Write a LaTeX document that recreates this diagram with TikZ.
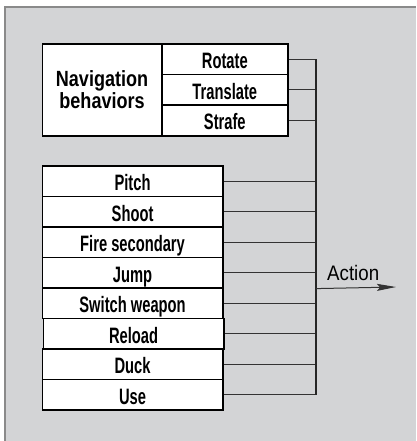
\documentclass[tikz,border=0pt]{standalone}
\usepackage{fontspec}
\setmainfont{Liberation Sans}
\newfontfamily\condfont[FakeStretch=0.66]{Liberation Sans Bold}
\newfontfamily\navfont[FakeStretch=0.82]{Liberation Sans}
\newfontfamily\actfont[FakeStretch=0.89]{Liberation Sans}
\usetikzlibrary{arrows.meta}
\definecolor{bgcol}{HTML}{D3D4D6}
\definecolor{framecol}{HTML}{8A8A8A}
\definecolor{wirecol}{HTML}{333333}
\begin{document}
\begin{tikzpicture}[x=1pt,y=-1pt,
  cell/.style={draw=black, line width=1.6pt, fill=white, inner sep=0pt, anchor=north west,
    text height=21pt, text depth=2pt, font=\condfont\fontsize{22.3}{24}\selectfont},
  navcell/.style={cell, minimum width=126pt, minimum height=30.67pt},
  actcell/.style={cell, minimum width=180.5pt, minimum height=30.5pt},
  wire/.style={draw=wirecol, line width=1pt},
  busline/.style={draw=black!85, line width=1.6pt}]
\useasboundingbox (0,0) rectangle (416,441);
\fill[bgcol] (4,6) rectangle (416,441);
\draw[framecol, line width=1.6pt] (4.8,441) -- (4.8,6.8) -- (416,6.8);

% navigation block
\node[draw=black, line width=1.6pt, fill=white, inner sep=0pt, anchor=north west,
  minimum width=119.5pt, minimum height=92pt, align=center,
  font=\navfont\bfseries\fontsize{22}{22.4}\selectfont] (nav) at (41.5,43) {Navigation\\behaviors};
\node[navcell] (rotate) at (161,43) {Rotate};
\node[navcell] (translate) at (161,73.67) {Translate};
\node[navcell] (strafe) at (161,104.33) {Strafe};

% action list
\node[actcell] (pitch) at (41.5,165) {Pitch};
\node[actcell] (shoot) at (41.5,195.5) {Shoot};
\node[actcell] (fire) at (41.5,226) {Fire secondary};
\node[actcell] (jump) at (41.5,256.5) {Jump};
\node[actcell] (switch) at (41.5,287) {Switch weapon};
\node[actcell] (reload) at (42.5,317.5) {Reload};
\node[actcell] (duck) at (41.5,348) {Duck};
\node[actcell] (use) at (41.5,378.5) {Use};

\coordinate (bus) at (316,0);
\foreach \n in {rotate,translate,strafe,pitch,shoot,fire,jump,switch,reload,duck,use}
  \draw[wire] (\n.east) -- (\n.east -| bus);
\draw[busline] (rotate.east -| bus) -- (use.east -| bus);

\coordinate (tip) at (396,287);
\draw[wire, -{Stealth[length=19pt,width=7pt,inset=3pt]}] (jump.south east -| bus) -- (tip);
\node[anchor=base west, inner sep=0pt, font=\actfont\fontsize{21}{22}\selectfont] (action) at (327,280) {Action};
\end{tikzpicture}
\end{document}
